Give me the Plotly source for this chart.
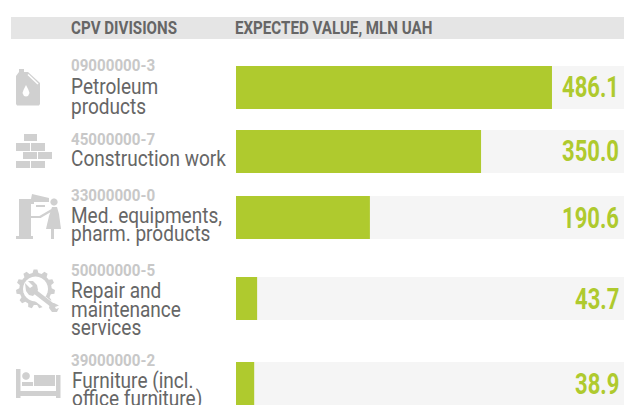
import math
import plotly.graph_objects as go

W, H = 624, 405
codes = ["09000000-3", "45000000-7", "33000000-0", "50000000-5", "39000000-2"]
names = [["Petroleum", "products"], ["Construction work"], ["Med. equipments,", "pharm. products"],
         ["Repair and", "maintenance", "services"], ["Furniture (incl.", "office furniture)"]]
labels = ["486.1", "350.0", "190.6", "43.7", "38.9"]
# bar lengths as drawn in the picture (not strictly proportional to the labels)
drawn = [486.1, 377.0, 206.0, 32.5, 28.0]
track_max = 596.9
header_left = "CPV DIVISIONS"
header_right = "EXPECTED VALUE, MLN UAH"

GREEN, TRACK, DARK, CODE, BAND, ICON = "#afca2e", "#f5f5f5", "#666666", "#c8c8c8", "#e5e5e5", "#d0d0d0"
PX = 0.65
X0 = 236
centers = [87.5, 151.5, 217.5, 298.5, 383.5]
FONT = "Roboto"

fx = lambda x: x / W
fy = lambda y: 1 - y / H

fig = go.Figure()
fig.add_bar(x=[track_max] * 5, y=centers, orientation="h", width=43, marker=dict(color=TRACK, line_width=0), hoverinfo="skip")
fig.add_bar(x=drawn, y=centers, orientation="h", width=43, marker=dict(color=GREEN, line_width=0))

ann = []
def T(x, y, s, size, color, anchor="left", bold=False):
    ann.append(dict(xref="paper", yref="paper", x=fx(x), y=fy(y), text=f"<b>{s}</b>" if bold else s, showarrow=False,
                    xanchor=anchor, yanchor="middle", font=dict(family=FONT, size=size, color=color),
                    borderpad=0, borderwidth=0))
T(71, 28, header_left, 18, DARK, bold=True)
T(235, 28, header_right, 18, DARK, bold=True)
code_y = [65, 139, 195, 270, 360]
line_y = [[87, 106], [158], [215, 233], [290, 309, 327], [381, 399]]
name_x = [71, 71, 71, 71, 72]
for i in range(5):
    T(71, code_y[i], codes[i], 17, CODE, bold=True)
    for s, y in zip(names[i], line_y[i]):
        T(name_x[i], y, s, 22, DARK)
    T(619, centers[i], labels[i], 29, GREEN, anchor="right", bold=True)

shapes = [dict(type="rect", xref="paper", yref="paper", x0=fx(11), x1=1, y0=fy(17), y1=fy(39), fillcolor=BAND, line_width=0, layer="below")]
def path(points, color=ICON):
    d = "M" + " L".join(f"{fx(x):.5f},{fy(y):.5f}" for x, y in points) + " Z"
    shapes.append(dict(type="path", xref="paper", yref="paper", path=d, fillcolor=color, line_width=0))
def rect(x0, y0, x1, y1, color=ICON):
    path([(x0, y0), (x1, y0), (x1, y1), (x0, y1)], color)
def circle(cx, cy, r, color=ICON):
    path([(cx + r * math.cos(a * math.pi / 12), cy + r * math.sin(a * math.pi / 12)) for a in range(24)], color)
def stroke(p0, p1, w, color=ICON):
    dx, dy = p1[0] - p0[0], p1[1] - p0[1]
    n = math.hypot(dx, dy)
    ox, oy = -dy / n * w / 2, dx / n * w / 2
    path([(p0[0] + ox, p0[1] + oy), (p1[0] + ox, p1[1] + oy), (p1[0] - ox, p1[1] - oy), (p0[0] - ox, p0[1] - oy)], color)

# jerrycan
rect(19, 69, 24, 73)
path([(16, 76), (19, 72), (28, 72), (40, 83), (40, 104), (39, 105.5), (17, 105.5), (16, 104)])
stroke((28, 74.5), (38, 84), 1.6, "#ffffff")
path([(26, 85), (28.5, 90), (29.5, 93), (28, 96), (26, 96.5), (24, 96), (22.5, 93), (23.5, 90)], "#ffffff")
# bricks
for r in [(24, 134, 37, 141), (16, 143, 30, 151), (31, 143, 45, 151), (23, 152, 37, 159), (38, 152, 52, 159), (16, 161, 30, 168), (31, 161, 45, 168)]:
    rect(*r)
# medical
rect(19, 199, 31, 237)
rect(16, 236, 33, 239)
path([(31, 199), (32, 194), (49, 198), (49, 202), (31, 202)])
rect(36, 205, 45, 207)
rect(31, 202, 34, 204)
stroke((31, 217), (41, 217), 2)
circle(54, 202, 3.6)
path([(52, 207), (57, 207), (59, 214), (61, 229), (46, 229), (49, 216)])
stroke((40, 217), (52, 210), 2.4)
rect(51, 229, 54, 239)
# gear
R0, R1 = 19.5, 16.2
cx, cy = 35.5, 289
gear = []
for k in range(11):
    a = k * 2 * math.pi / 11 - math.pi / 2
    st = 2 * math.pi / 11
    gear += [(cx + R1 * math.cos(a - st * .32), cy + R1 * math.sin(a - st * .32)),
             (cx + R0 * math.cos(a - st * .17), cy + R0 * math.sin(a - st * .17)),
             (cx + R0 * math.cos(a + st * .17), cy + R0 * math.sin(a + st * .17)),
             (cx + R1 * math.cos(a + st * .32), cy + R1 * math.sin(a + st * .32))]
path(gear)
circle(cx, cy, 12.5, "#ffffff")
stroke((33, 293), (62, 316), 10, "#ffffff")
path([(25, 283), (30, 288), (33, 286), (28, 281), (33, 281), (37, 285), (38, 290), (36, 293), (33, 296), (29, 295), (26, 291)])
stroke((34, 291), (52, 305), 4.6)
path([(50, 303), (54, 303), (59, 305.5), (55, 307), (56, 309), (59, 308), (57, 312), (52, 312), (49, 308)])
# bed
rect(16, 369, 20.5, 398)
rect(56, 375, 60.5, 398)
rect(20, 391, 56, 396)
rect(34, 375, 55, 386)
circle(26, 376, 3.8)
rect(22, 382, 33, 386)

POST = """
document.documentElement.style.margin='0';document.body.style.margin='0';document.body.style.overflow='hidden';
var K={18:0.84,17:0.89,22:0.865,29:0.76};
function squeeze(){document.querySelectorAll('.annotation-text').forEach(function(t){
 if(t.dataset.sq)return;var w=t.getComputedTextLength();if(!w)return;
 var fs=parseFloat(t.style.fontSize),k=K[Math.round(fs)]||1,x=parseFloat(t.getAttribute('x'));
 var right=Math.round(fs)==29;
 t.setAttribute('x',right?x+w/2:x-w/2);t.style.textAnchor=right?'end':'start';t.setAttribute('text-anchor',right?'end':'start');
 t.setAttribute('lengthAdjust','spacingAndGlyphs');t.setAttribute('textLength',w*k);t.dataset.sq='1';});}
squeeze();setTimeout(squeeze,50);
"""

fig.update_layout(width=W, height=H, margin=dict(l=0, r=0, t=0, b=0), paper_bgcolor="#ffffff", plot_bgcolor="rgba(0,0,0,0)",
                  barmode="overlay", showlegend=False, annotations=ann, shapes=shapes,
                  xaxis=dict(visible=False, range=[-X0 / PX, (W - X0) / PX], domain=[0, 1], fixedrange=True),
                  yaxis=dict(visible=False, range=[H, 0], domain=[0, 1], fixedrange=True))
fig.write_html("out.html", config=dict(displayModeBar=False), post_script=POST)
